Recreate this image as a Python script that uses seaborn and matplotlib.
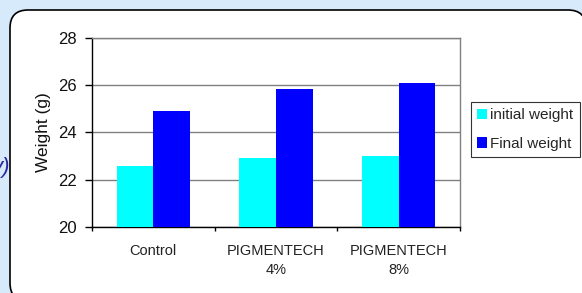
import matplotlib
matplotlib.use("Agg")
import matplotlib.pyplot as plt
from matplotlib.patches import FancyBboxPatch
import pandas as pd
import seaborn as sns

categories = ["Control", "PIGMENTECH\n4%", "PIGMENTECH\n8%"]
initial_weight = [22.6, 22.9, 23.0]
final_weight = [24.9, 25.85, 26.1]
series = ["initial weight", "Final weight"]
colors = ["#00FFFF", "#0000FF"]

df = pd.DataFrame({
    "group": categories * 2,
    "series": [series[0]] * 3 + [series[1]] * 3,
    "weight": initial_weight + final_weight,
})

sns.set_style("white")
plt.rcParams["font.family"] = ["Liberation Sans", "DejaVu Sans"]

W, H = 582, 293
fig = plt.figure(figsize=(W / 100, H / 100), dpi=100)
fig.patch.set_facecolor("#d6eafb")

# rounded white panel behind the chart
panel = FancyBboxPatch((10, -8), 576, 291,
                       boxstyle="round,pad=0,rounding_size=18",
                       transform=None, facecolor="white",
                       edgecolor="black", linewidth=1.2, zorder=-1)
fig.patches.append(panel)

# cut-off fragment of a label sitting behind the panel
fig.text(9.5 / W, 1 - 167 / H, "y)", color="#2a2aa0", fontsize=16,
         style="italic", ha="right", va="center", zorder=-2)

ax = fig.add_axes([92 / W, 1 - 227 / H, 368 / W, 189 / H])
sns.barplot(data=df, x="group", y="weight", hue="series", palette=colors,
            width=0.6, gap=0, saturation=1, linewidth=0, ax=ax, zorder=3)

ax.set_ylim(20, 28)
ax.set_xlim(-0.5, 2.5)
ax.set_yticks([20, 22, 24, 26, 28])
ax.yaxis.grid(True, color="#808080", linewidth=1)
ax.set_axisbelow(True)
ax.set_xlabel("")
ax.set_ylabel("Weight (g)", fontsize=12.5, labelpad=5, color="#111111")
ax.tick_params(axis="y", labelsize=12, length=5, width=1, color="black",
               direction="out", left=True, pad=6, labelcolor="#111111")

ax.set_xticks([-0.5, 0.5, 1.5, 2.5])
ax.set_xticklabels([])
ax.set_xticks([0, 1, 2], minor=True)
ax.set_xticklabels(categories, minor=True, fontsize=10.5, color="#222222",
                   linespacing=1.45)
ax.tick_params(axis="x", which="major", length=3, width=1, color="black",
               direction="out", bottom=True)
ax.tick_params(axis="x", which="minor", length=0, pad=12)

for s in ["top", "right"]:
    ax.spines[s].set_color("#808080")
for s in ["left", "bottom"]:
    ax.spines[s].set_color("black")
for s in ax.spines.values():
    s.set_linewidth(1)

ax.legend(loc="upper left", bbox_to_anchor=(471 / W, 1 - 102 / H),
          bbox_transform=fig.transFigure, fontsize=11, frameon=True,
          fancybox=False, edgecolor="black", handlelength=0.65,
          handleheight=0.65, handletextpad=0.2, borderpad=0.42,
          labelspacing=0.95, borderaxespad=0)
ax.get_legend().get_frame().set_linewidth(0.8)

fig.savefig("out.png", dpi=100, facecolor=fig.get_facecolor())
